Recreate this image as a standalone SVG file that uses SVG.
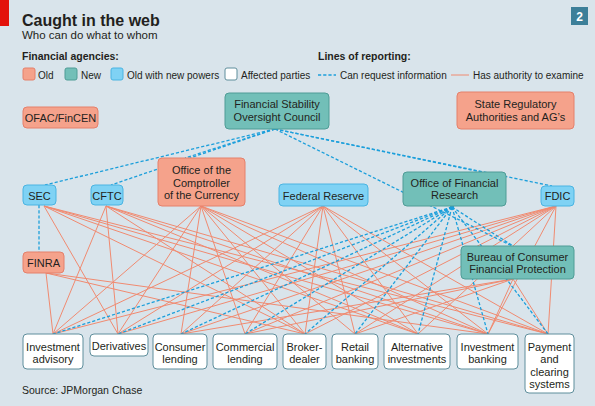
<svg xmlns="http://www.w3.org/2000/svg" width="595" height="406" viewBox="0 0 595 406">
<defs>
<style>
text{font-family:"Liberation Sans","Open Sans",Arial,sans-serif;fill:#231f20}
.t{font-size:11px;text-anchor:middle}
.old{fill:#f5a28b;stroke:#e5806b;stroke-width:1}
.new{fill:#72bfb8;stroke:#4f9c96;stroke-width:1}
.onp{fill:#7fd2f4;stroke:#4ab4e2;stroke-width:1}
.aff{fill:#ffffff;stroke:#5f8e9c;stroke-width:1}
.ex{stroke:#f08a70;stroke-width:1;fill:none}
.rq{stroke:#1c9fdb;stroke-width:1.3;stroke-dasharray:3.2 2;fill:none}
</style>
</defs>
<rect x="0" y="0" width="595" height="406" fill="#d9e4eb"/>
<rect x="0" y="0" width="9" height="26" fill="#e3120b"/>
<text x="22" y="26" font-size="16" font-weight="bold">Caught in the web</text>
<text x="22" y="39" font-size="11.5">Who can do what to whom</text>
<text x="22" y="60" font-size="10.5" font-weight="bold">Financial agencies:</text>
<text x="318" y="60" font-size="10.5" font-weight="bold">Lines of reporting:</text>
<g id="legend">
<rect x="23" y="68" width="12" height="12" rx="2" class="old"/>
<text x="38" y="78.5" font-size="10">Old</text>
<rect x="65" y="68" width="12" height="12" rx="2" class="new"/>
<text x="81" y="78.5" font-size="10">New</text>
<rect x="111" y="68" width="12" height="12" rx="2" class="onp"/>
<text x="127" y="78.5" font-size="10">Old with new powers</text>
<rect x="225" y="68" width="12" height="12" rx="2" class="aff"/>
<text x="241" y="78.5" font-size="10">Affected parties</text>
<line x1="318" y1="75" x2="336" y2="75" class="rq"/>
<text x="340" y="78.5" font-size="10">Can request information</text>
<line x1="451" y1="75" x2="469" y2="75" class="ex"/>
<text x="473" y="78.5" font-size="10">Has authority to examine</text>
</g>
<g id="badge">
<rect x="571" y="7" width="17" height="18" fill="#3c7f99"/>
<text x="579.5" y="21" font-size="12" font-weight="bold" text-anchor="middle" style="fill:#ffffff">2</text>
</g>
<g id="connectors">
<!-- SEC -->
<line x1="44" y1="206" x2="118" y2="334" class="ex"/>
<line x1="44" y1="206" x2="305" y2="334" class="ex"/>
<line x1="44" y1="206" x2="418" y2="334" class="ex"/>
<line x1="44" y1="206" x2="488" y2="334" class="ex"/>
<line x1="44" y1="206" x2="548" y2="334" class="ex"/>
<!-- CFTC -->
<line x1="106" y1="206" x2="53" y2="334" class="ex"/>
<line x1="106" y1="206" x2="118" y2="334" class="ex"/>
<line x1="106" y1="206" x2="305" y2="334" class="ex"/>
<line x1="106" y1="206" x2="418" y2="334" class="ex"/>
<line x1="106" y1="206" x2="488" y2="334" class="ex"/>
<line x1="106" y1="206" x2="548" y2="334" class="ex"/>
<!-- OCC -->
<line x1="201" y1="206" x2="53" y2="334" class="ex"/>
<line x1="201" y1="206" x2="118" y2="334" class="ex"/>
<line x1="201" y1="206" x2="181" y2="334" class="ex"/>
<line x1="201" y1="206" x2="245" y2="334" class="ex"/>
<line x1="201" y1="206" x2="305" y2="334" class="ex"/>
<line x1="201" y1="206" x2="355" y2="334" class="ex"/>
<line x1="201" y1="206" x2="418" y2="334" class="ex"/>
<line x1="201" y1="206" x2="488" y2="334" class="ex"/>
<line x1="201" y1="206" x2="548" y2="334" class="ex"/>
<!-- Fed -->
<line x1="323" y1="206" x2="53" y2="334" class="ex"/>
<line x1="323" y1="206" x2="118" y2="334" class="ex"/>
<line x1="323" y1="206" x2="181" y2="334" class="ex"/>
<line x1="323" y1="206" x2="245" y2="334" class="ex"/>
<line x1="323" y1="206" x2="305" y2="334" class="ex"/>
<line x1="323" y1="206" x2="355" y2="334" class="ex"/>
<line x1="323" y1="206" x2="418" y2="334" class="ex"/>
<line x1="323" y1="206" x2="488" y2="334" class="ex"/>
<line x1="323" y1="206" x2="548" y2="334" class="ex"/>
<!-- FDIC -->
<line x1="556" y1="206" x2="53" y2="334" class="ex"/>
<line x1="556" y1="206" x2="118" y2="334" class="ex"/>
<line x1="556" y1="206" x2="181" y2="334" class="ex"/>
<line x1="556" y1="206" x2="245" y2="334" class="ex"/>
<line x1="556" y1="206" x2="305" y2="334" class="ex"/>
<line x1="556" y1="206" x2="355" y2="334" class="ex"/>
<line x1="556" y1="206" x2="418" y2="334" class="ex"/>
<line x1="556" y1="206" x2="488" y2="334" class="ex"/>
<line x1="556" y1="206" x2="548" y2="334" class="ex"/>
<!-- FINRA -->
<line x1="46" y1="273" x2="53" y2="334" class="ex"/>
<line x1="46" y1="273" x2="305" y2="334" class="ex"/>
<line x1="46" y1="273" x2="488" y2="334" class="ex"/>
<!-- CFPB -->
<line x1="513" y1="279" x2="181" y2="334" class="ex"/>
<line x1="513" y1="279" x2="245" y2="334" class="ex"/>
<line x1="513" y1="279" x2="355" y2="334" class="ex"/>
<line x1="513" y1="279" x2="488" y2="334" class="ex"/>
<line x1="513" y1="279" x2="548" y2="334" class="ex"/>
<!-- OFR requests -->
<line x1="452" y1="207" x2="53" y2="334" class="rq"/>
<line x1="452" y1="207" x2="118" y2="334" class="rq"/>
<line x1="452" y1="207" x2="181" y2="334" class="rq"/>
<line x1="452" y1="207" x2="245" y2="334" class="rq"/>
<line x1="452" y1="207" x2="305" y2="334" class="rq"/>
<line x1="452" y1="207" x2="355" y2="334" class="rq"/>
<line x1="452" y1="207" x2="418" y2="334" class="rq"/>
<line x1="452" y1="207" x2="488" y2="334" class="rq"/>
<line x1="452" y1="207" x2="548" y2="334" class="rq"/>
<line x1="452" y1="207" x2="513" y2="246" class="rq"/>
<!-- FSOC requests -->
<line x1="275" y1="129" x2="45" y2="185" class="rq"/>
<line x1="275" y1="129" x2="111" y2="185" class="rq"/>
<line x1="275" y1="129" x2="185" y2="158" class="rq"/>
<line x1="275" y1="129" x2="481" y2="172" class="rq"/>
<line x1="275" y1="129" x2="552" y2="186" class="rq"/>
<line x1="275" y1="129" x2="512" y2="246" class="rq"/>
<!-- SEC to FINRA -->
<line x1="39" y1="205" x2="39" y2="252" class="rq"/>
<circle cx="452" cy="207" r="2.2" fill="#1c9fdb"/>
</g>
<g id="ofac"><rect x="23" y="107" width="75" height="21" rx="4" class="old"/><text class="t" x="60.5" y="122">OFAC/FinCEN</text></g>
<g id="fsoc"><rect x="225" y="93" width="104" height="36" rx="4" class="new"/><text class="t" x="277" y="108">Financial Stability</text><text class="t" x="277" y="120.5">Oversight Council</text></g>
<g id="state"><rect x="457" y="92" width="117" height="37" rx="4" class="old"/><text class="t" x="515.5" y="108">State Regulatory</text><text class="t" x="515.5" y="120.5">Authorities and AG’s</text></g>
<g id="sec"><rect x="23" y="185" width="33" height="20" rx="4" class="onp"/><text class="t" x="39.5" y="199.5">SEC</text></g>
<g id="cftc"><rect x="91" y="185" width="32" height="20" rx="4" class="onp"/><text class="t" x="107" y="199.5">CFTC</text></g>
<g id="occ"><rect x="158" y="158" width="87" height="48" rx="4" class="old"/><text class="t" x="201.5" y="174">Office of the</text><text class="t" x="201.5" y="186.5">Comptroller</text><text class="t" x="201.5" y="199">of the Currency</text></g>
<g id="fed"><rect x="279" y="184" width="89" height="22" rx="4" class="onp"/><text class="t" x="323.5" y="199.5">Federal Reserve</text></g>
<g id="ofr"><rect x="403" y="172" width="103" height="34" rx="4" class="new"/><text class="t" x="454.5" y="187">Office of Financial</text><text class="t" x="454.5" y="199">Research</text></g>
<g id="fdic"><rect x="541" y="186" width="33" height="20" rx="4" class="onp"/><text class="t" x="557.5" y="200">FDIC</text></g>
<g id="finra"><rect x="23" y="252" width="41" height="21" rx="4" class="old"/><text class="t" x="43.5" y="266.5">FINRA</text></g>
<g id="cfpb"><rect x="461" y="246" width="113" height="33" rx="4" class="new"/><text class="t" x="517.5" y="261">Bureau of Consumer</text><text class="t" x="517.5" y="273">Financial Protection</text></g>
<g id="ia"><rect x="23" y="334" width="60" height="35" rx="4" class="aff"/><text class="t" x="53" y="351">Investment</text><text class="t" x="53" y="363">advisory</text></g>
<g id="der"><rect x="90" y="334" width="58" height="22" rx="4" class="aff"/><text class="t" x="119" y="350">Derivatives</text></g>
<g id="cl"><rect x="153" y="334" width="54" height="35" rx="4" class="aff"/><text class="t" x="180" y="351">Consumer</text><text class="t" x="180" y="363">lending</text></g>
<g id="coml"><rect x="213" y="334" width="64" height="35" rx="4" class="aff"/><text class="t" x="245" y="351">Commercial</text><text class="t" x="245" y="363">lending</text></g>
<g id="bd"><rect x="283" y="334" width="43" height="35" rx="4" class="aff"/><text class="t" x="304.5" y="351">Broker-</text><text class="t" x="304.5" y="363">dealer</text></g>
<g id="rb"><rect x="332" y="334" width="46" height="35" rx="4" class="aff"/><text class="t" x="355" y="351">Retail</text><text class="t" x="355" y="363">banking</text></g>
<g id="ai"><rect x="384" y="334" width="66" height="35" rx="4" class="aff"/><text class="t" x="417" y="351">Alternative</text><text class="t" x="417" y="363">investments</text></g>
<g id="ib"><rect x="457" y="334" width="61" height="35" rx="4" class="aff"/><text class="t" x="487.5" y="351">Investment</text><text class="t" x="487.5" y="363">banking</text></g>
<g id="pcs"><rect x="525" y="334" width="49" height="59" rx="4" class="aff"/><text class="t" x="549.5" y="351">Payment</text><text class="t" x="549.5" y="363.3">and</text><text class="t" x="549.5" y="375.6">clearing</text><text class="t" x="549.5" y="388">systems</text></g>
<text x="22" y="394" font-size="10.5">Source: JPMorgan Chase</text>
</svg>
